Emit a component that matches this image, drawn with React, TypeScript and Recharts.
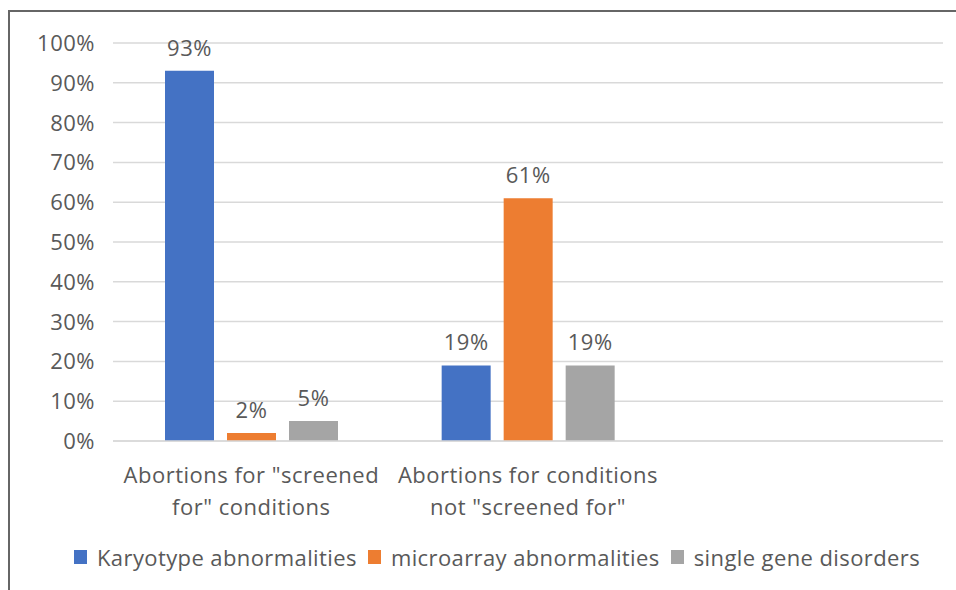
import React from "react";
import { BarChart, Bar, XAxis, YAxis, CartesianGrid, LabelList } from "recharts";

const categories = ["screened", "notScreened", "empty"];
const categoryLines: string[][] = [
  ['Abortions for "screened', 'for" conditions'],
  ["Abortions for conditions", 'not "screened for"'],
  ["", ""],
];
const karyotype: (number | null)[] = [0.93, 0.19, null];
const microarray: (number | null)[] = [0.02, 0.61, null];
const singleGene: (number | null)[] = [0.05, 0.19, null];
const yTicks = [0, 0.1, 0.2, 0.3, 0.4, 0.5, 0.6, 0.7, 0.8, 0.9, 1];
const seriesNames = ["Karyotype abnormalities", "microarray abnormalities", "single gene disorders"];
const colors = ["#4472C4", "#ED7D31", "#A5A5A5"];

const data = categories.map((c, i) => ({
  key: c,
  idx: i,
  karyotype: karyotype[i],
  microarray: microarray[i],
  singleGene: singleGene[i],
}));

const FONT = "'Open Sans', sans-serif";
const TXT = "#595959";
const FS = 22;
const LS = 0.5;

const pct = (v: number) => `${Math.round(v * 100)}%`;

const XTick = (props: any) => {
  const { x, y, payload } = props;
  const lines = categoryLines[payload.index] || ["", ""];
  return (
    <g>
      {lines.map((l, i) => (
        <text key={i} x={x} y={y + 34 + i * 32} textAnchor="middle" fill={TXT} fontSize={FS} fontFamily={FONT} letterSpacing={LS}>
          {l}
        </text>
      ))}
    </g>
  );
};

const YTick = (props: any) => {
  const { x, y, payload } = props;
  return (
    <text x={x} y={y + 8} textAnchor="end" fill={TXT} fontSize={FS} fontFamily={FONT} letterSpacing={LS}>
      {pct(payload.value)}
    </text>
  );
};

const BarLabel = (props: any) => {
  const { x, y, width, value } = props;
  if (value === null || value === undefined) return null;
  return (
    <text x={x + width / 2} y={y - 15} textAnchor="middle" fill={TXT} fontSize={FS} fontFamily={FONT} letterSpacing={LS}>
      {pct(value)}
    </text>
  );
};

const LegendBox = () => (
  <div
    style={{
      position: "absolute",
      left: 74,
      top: 542,
      height: 30,
      display: "flex",
      alignItems: "center",
      fontFamily: FONT,
      fontSize: FS,
      letterSpacing: 0.4,
      color: TXT,
      whiteSpace: "nowrap",
    }}
  >
    {seriesNames.map((n, i) => (
      <div key={n} style={{ display: "flex", alignItems: "center", marginRight: 11 }}>
        <div style={{ width: 13, height: 14, background: colors[i], marginRight: 10 }} />
        <span>{n}</span>
      </div>
    ))}
  </div>
);

export default function App() {
  return (
    <div style={{ position: "absolute", left: 0, top: 0, width: 956, height: 590, background: "#fff", overflow: "hidden" }}>
      <div style={{ position: "absolute", left: 8, top: 10, right: -4, bottom: -4, borderTop: "2px solid #666", borderLeft: "2px solid #666" }} />
      <div style={{ position: "absolute", left: 0, top: 0 }}>
        <BarChart
          width={956}
          height={590}
          data={data}
          margin={{ top: 43, right: 13, left: 0, bottom: 0 }}
          barSize={49}
          barGap={13}
        >
          <CartesianGrid vertical={false} stroke="#d9d9d9" strokeWidth={1.5} />
          <XAxis
            dataKey="key"
            axisLine={{ stroke: "#d9d9d9", strokeWidth: 1.5 }}
            tickLine={false}
            tick={<XTick />}
            height={149}
            interval={0}
          />
          <YAxis
            width={113}
            domain={[0, 1]}
            ticks={yTicks}
            axisLine={false}
            tickLine={false}
            tick={<YTick />}
            tickMargin={12}
          />
          <Bar dataKey="karyotype" fill={colors[0]} isAnimationActive={false}>
            <LabelList dataKey="karyotype" content={<BarLabel />} />
          </Bar>
          <Bar dataKey="microarray" fill={colors[1]} isAnimationActive={false}>
            <LabelList dataKey="microarray" content={<BarLabel />} />
          </Bar>
          <Bar dataKey="singleGene" fill={colors[2]} isAnimationActive={false}>
            <LabelList dataKey="singleGene" content={<BarLabel />} />
          </Bar>
        </BarChart>
      </div>
      <LegendBox />
    </div>
  );
}
